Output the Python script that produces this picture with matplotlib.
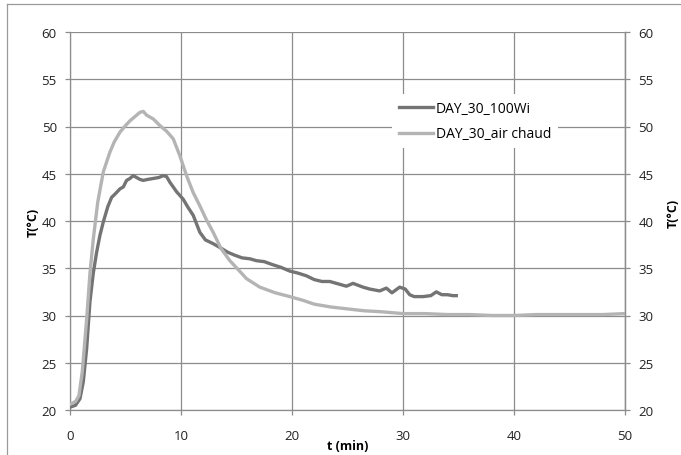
import matplotlib
matplotlib.use('Agg')
import matplotlib.pyplot as plt
from matplotlib.lines import Line2D

# Données
t_100wi = [0, 0.5, 0.9, 1.2, 1.5, 1.8, 2.1, 2.4, 2.7, 3.0,
           3.4, 3.75, 4.1, 4.5, 4.8, 5.1, 5.4, 5.7, 6.0, 6.3,
           6.6, 7.0, 7.5, 8.0, 8.4, 8.7, 9.0, 9.3, 9.6, 10.2,
           10.6, 11.1, 11.7, 12.2, 12.9, 13.5, 14.2, 14.8, 15.5, 16.2,
           16.8, 17.5, 18.2, 19.0, 19.8, 20.5, 21.3, 22.0, 22.7, 23.4,
           24.0, 24.9, 25.5, 26.4, 27.0, 27.9, 28.5, 29.0, 29.7, 30.2,
           30.6, 31.0, 31.8, 32.5, 33.0, 33.5, 34.0, 34.5, 34.8]
T_100wi = [20.3, 20.5, 21.2, 23.0, 26.5, 31.5, 34.5, 36.7, 38.5, 39.9,
           41.5, 42.5, 42.9, 43.4, 43.6, 44.3, 44.5, 44.8, 44.6, 44.4,
           44.3, 44.4, 44.5, 44.6, 44.8, 44.7, 44.1, 43.6, 43.1, 42.3,
           41.5, 40.6, 38.8, 38.0, 37.6, 37.2, 36.7, 36.4, 36.1, 36.0,
           35.8, 35.7, 35.4, 35.1, 34.7, 34.5, 34.2, 33.8, 33.6, 33.6,
           33.4, 33.1, 33.4, 33.0, 32.8, 32.6, 32.9, 32.4, 33.0, 32.8,
           32.2, 32.0, 32.0, 32.1, 32.5, 32.2, 32.2, 32.1, 32.1]

t_air = [0, 0.5, 0.8, 1.1, 1.5, 1.8, 2.1, 2.5, 3.0, 3.6,
         4.0, 4.5, 5.0, 5.4, 5.8, 6.3, 6.6, 6.9, 7.5, 8.1,
         8.7, 9.3, 9.9, 10.5, 11.1, 11.7, 12.3, 12.9, 13.6, 14.4,
         15.2, 15.9, 17.1, 18.5, 19.8, 21.0, 22.0, 23.5, 25.0, 26.5,
         28, 30, 32, 34, 36, 38, 40, 42, 44, 46,
         48, 50]
T_air = [20.6, 20.9, 21.5, 24.0, 29.6, 34.5, 38.1, 42.0, 45.2, 47.3,
         48.4, 49.4, 50.1, 50.6, 51.0, 51.5, 51.6, 51.2, 50.8, 50.1,
         49.5, 48.7, 46.9, 44.8, 43.0, 41.6, 40.1, 38.8, 37.1, 35.8,
         34.8, 33.9, 33.0, 32.4, 32.0, 31.6, 31.2, 30.9, 30.7, 30.5,
         30.4, 30.2, 30.2, 30.1, 30.1, 30.0, 30.0, 30.1, 30.1, 30.1,
         30.1, 30.2]

labels = ['DAY_30_100Wi', 'DAY_30_air chaud']
couleurs = ['#747474', '#b4b4b4']
x_ticks = [0, 10, 20, 30, 40, 50]
y_ticks = [20, 25, 30, 35, 40, 45, 50, 55, 60]

plt.rcParams['font.family'] = ['Open Sans', 'DejaVu Sans']

fig = plt.figure(figsize=(6.81, 4.56), dpi=100)
ax = fig.add_axes([70 / 681, 1 - 411 / 456, 555 / 681, 378 / 456])

ax.plot(t_100wi, T_100wi, color=couleurs[0], lw=2.4, label=labels[0], zorder=3)
ax.plot(t_air, T_air, color=couleurs[1], lw=2.4, label=labels[1], zorder=3)

ax.set_xlim(0, 50)
ax.set_ylim(20, 60)
ax.set_xticks(x_ticks)
ax.set_yticks(y_ticks)
ax.grid(True, color='#8c8c8c', lw=0.9)
ax.set_axisbelow(True)

ax.spines['top'].set_visible(False)
for s in ['left', 'bottom', 'right']:
    ax.spines[s].set_color('#8c8c8c')
    ax.spines[s].set_linewidth(0.9)

ax.tick_params(axis='x', colors='#8c8c8c', labelcolor='#222222', labelsize=9.5,
               length=3.5, width=0.9, pad=10)
ax.tick_params(axis='y', colors='#8c8c8c', labelcolor='#222222', labelsize=9.5,
               length=3.5, width=0.9, pad=6)

ax2 = ax.twinx()
ax2.set_ylim(20, 60)
ax2.set_yticks(y_ticks)
for s in ['top', 'left', 'bottom']:
    ax2.spines[s].set_visible(False)
ax2.spines['right'].set_color('#8c8c8c')
ax2.spines['right'].set_linewidth(0.9)
ax2.tick_params(axis='y', colors='#8c8c8c', labelcolor='#222222', labelsize=9.5,
                length=3.5, width=0.9, pad=6)

ax.set_xlabel('t (min)', fontsize=9, fontweight='bold')
ax.xaxis.label.set_va('center')
ax.xaxis.set_label_coords(0.5, -36 / 378)
ax.set_ylabel('T(°C)', fontsize=9, fontweight='bold')
ax.yaxis.label.set_va('center')
ax.yaxis.set_label_coords(-37 / 555, 189 / 378)
ax2.set_ylabel('T(°C)', fontsize=9, fontweight='bold')
ax2.yaxis.label.set_va('center')
ax2.yaxis.set_label_coords(603 / 555, 198 / 378)

leg = ax.legend(loc='upper left', bbox_to_anchor=(322 / 555, 316 / 378),
                frameon=True, fontsize=10, handlelength=2.45, handletextpad=0.2,
                borderpad=0.5, labelspacing=0.75, borderaxespad=0)
leg.get_frame().set_edgecolor('none')
leg.get_frame().set_facecolor('white')
leg.get_frame().set_alpha(1)
leg.get_frame().set_boxstyle('square', pad=0)
leg.set_zorder(5)

# cadre extérieur
fig.add_artist(Line2D([7 / 681, 7 / 681], [0, 1 - 5 / 456], color='#9a9a9a', lw=0.9))
fig.add_artist(Line2D([7 / 681, 1], [1 - 5 / 456, 1 - 5 / 456], color='#9a9a9a', lw=0.9))

fig.savefig('out.png', dpi=100)
